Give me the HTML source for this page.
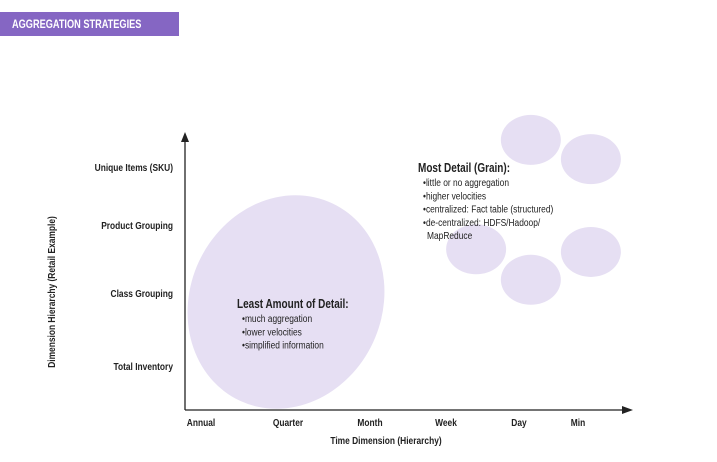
<!DOCTYPE html>
<html><head><meta charset="utf-8"><style>
body{margin:0;background:#fff;width:717px;height:462px;overflow:hidden;font-family:"Liberation Sans",sans-serif}
svg{position:absolute;left:0;top:0}
</style></head><body>
<svg id="c" width="717" height="462" font-family="Liberation Sans, sans-serif">
<rect x="0" y="12" width="179" height="24" fill="#8566c3"/>
<text transform="translate(12 28) scale(0.8 1)" fill="#fff" font-size="11.5" font-weight="bold">AGGREGATION STRATEGIES</text>
<g id="bubbles"></g>
<g id="axes"></g>
<g id="notes"></g>
</svg>
<script>
const xCategories=["Annual","Quarter","Month","Week","Day","Min"];
const yCategories=["Total Inventory","Class Grouping","Product Grouping","Unique Items (SKU)"];
// small grain bubbles in category units (linear time / hierarchy scale)
const bubbleX=[4.34,5.13,3.62,5.13,4.34];
const bubbleY=[3.41,3.12,1.76,1.72,1.30];
const NS="http://www.w3.org/2000/svg";
const labelPx=[201,288,370,446,519,578];
function Xs(i){return labelPx[i];}
function Xl(v){return 201+v*76;}
function Yl(v){return 366-v*66.3;}
function Y(i){return [366,293,225,167][i];}
function el(t,a,p){const e=document.createElementNS(NS,t);for(const k in a)e.setAttribute(k,a[k]);p.appendChild(e);return e;}
const SX=0.8;
function txt(x,y,s,size,bold,anchor,p){
 const t=el('text',{transform:'translate('+x+' '+y+') scale('+SX+' 1)','font-size':size,'font-weight':bold?'bold':'normal','text-anchor':anchor||'start',fill:'#222'},p);
 t.textContent=s;return t;
}
const B=document.getElementById('bubbles'),A=document.getElementById('axes'),N=document.getElementById('notes');
let big=el('ellipse',{cx:286,cy:302,rx:96,ry:109,fill:'#e6dff3',transform:'rotate(25 286 302)'},B);


bubbleX.forEach((bx,i)=>{
 const c=el('ellipse',{cx:Xl(bx),cy:Yl(bubbleY[i]),rx:30,ry:25,fill:'#e6dff3'},B);
 
 
});
let ya=el('line',{x1:185,y1:410,x2:185,y2:140,stroke:'#222','stroke-width':1.3},A);


let yh=el('polygon',{points:'181,142 189,142 185,132',fill:'#222'},A);


let xa=el('line',{x1:185,y1:410,x2:624,y2:410,stroke:'#222','stroke-width':1.3},A);


let xh=el('polygon',{points:'622,406 622,414 633,410',fill:'#222'},A);


xCategories.forEach((c,i)=>{
 const t=txt(Xs(i),426,c,10.5,true,'middle',A);
 
 
});
yCategories.forEach((c,i)=>{
 const t=txt(173,Y(i)+4,c,10.5,true,'end',A);
 
 
});
let xt=txt(386,444,'Time Dimension (Hierarchy)',10.5,true,'middle',A);


let yt=el('text',{x:0,y:0,'font-size':10.5,'font-weight':'bold','text-anchor':'middle',fill:'#222',transform:'translate(55 292) rotate(-90) scale(0.8 1)'},A);
yt.textContent='Dimension Hierarchy (Retail Example)';


function note(x,y,title,items,name){
 const g=el('g',{},N);
 
 
 txt(x,y,title,12.5,true,'start',g);
 items.forEach((s,i)=>{
  txt(s.indent?x+9:x+5,y+14+i*13.3,(s.indent?'':'\u2022')+s.t,10.5,false,'start',g);
 });
}
note(237,308,'Least Amount of Detail:',[{t:'much aggregation'},{t:'lower velocities'},{t:'simplified information'}],'least-detail-note');
note(418,172,'Most Detail (Grain):',[{t:'little or no aggregation'},{t:'higher velocities'},{t:'centralized: Fact table (structured)'},{t:'de-centralized: HDFS/Hadoop/'},{t:'MapReduce',indent:true}],'most-detail-note');
</script>
</body></html>
